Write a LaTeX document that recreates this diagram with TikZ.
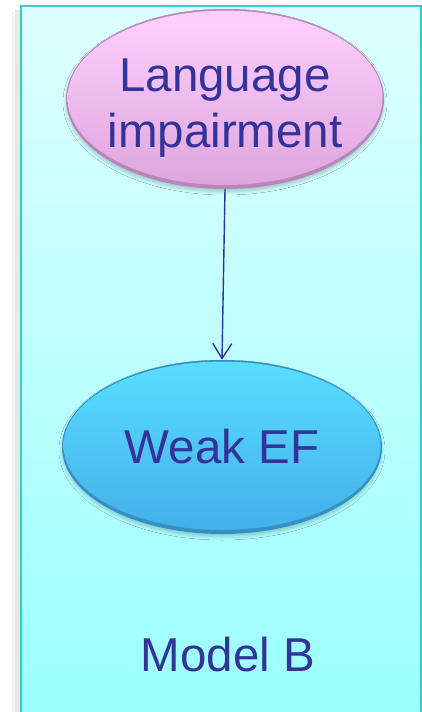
\documentclass[tikz,border=0pt]{standalone}
\usepackage{fontspec}
\setmainfont{Liberation Sans}
\usetikzlibrary{shapes.geometric,shadows.blur,arrows.meta}
\definecolor{inktext}{HTML}{333399}
\definecolor{edgeteal}{HTML}{33CCCC}
\definecolor{paneltop}{HTML}{DEFFFF}
\definecolor{panelbot}{HTML}{99FFFF}
\definecolor{pinktop}{HTML}{FFD0FF}
\definecolor{pinkbot}{HTML}{DDA5DD}
\definecolor{pinkrim}{HTML}{B886B8}
\definecolor{bluetop}{HTML}{58DEFF}
\definecolor{bluebot}{HTML}{44AEEA}
\definecolor{bluerim}{HTML}{3690C4}
\tikzset{
  x=1pt, y=-1pt,
  bigtext/.style={font=\fontsize{47.5}{56}\selectfont, text=inktext, align=center, inner sep=0pt},
  % bevelled ellipse: dark rim, shaded face lifted slightly
  bubble/.style n args={3}{ellipse, inner sep=0pt,
    blur shadow={shadow xshift=0pt, shadow yshift=-3pt,
      shadow blur radius=3pt, shadow opacity=20},
    fill=#3,
    path picture={
      \shade[top color=#1, bottom color=#2]
        ([yshift=1.2pt]path picture bounding box.center)
        ellipse[x radius=\pgfkeysvalueof{/pgf/minimum width}/2-1.5pt,
                y radius=\pgfkeysvalueof{/pgf/minimum height}/2-2.8pt];
    }},
  pinkbubble/.style={bubble={pinktop}{pinkbot}{pinkrim}},
  bluebubble/.style={bubble={bluetop}{bluebot}{bluerim}},
  link/.style={draw=inktext, line width=1.4pt,
    -{Straight Barb[length=15pt,width=19pt,line width=1.4pt]}}
}
\begin{document}
\begin{tikzpicture}
\useasboundingbox (0,0) rectangle (422,712);
% background panel with a soft shadow on its left side
\fill[black!20, opacity=0.45] (15,10) rectangle (21,720);
\fill[black!10, opacity=0.45] (12,12) rectangle (15,720);
\shade[top color=paneltop, bottom color=panelbot, draw=edgeteal, line width=2pt]
  (21,6) rectangle (421,740);
% nodes
\node[pinkbubble, minimum width=318pt, minimum height=180pt] (lang) at (225,99) {};
\node[bigtext] (langtext) at (225,108) {Language\\impairment};
\node[bluebubble, minimum width=320pt, minimum height=174pt] (weak) at (222,447) {};
\node[bigtext] (weaktext) at (weak.center) {Weak EF};
\node[bigtext] (model) at (228,655) {Model B};
% connector
\draw[link] (lang.south) -- (weak.north);
\end{tikzpicture}
\end{document}
